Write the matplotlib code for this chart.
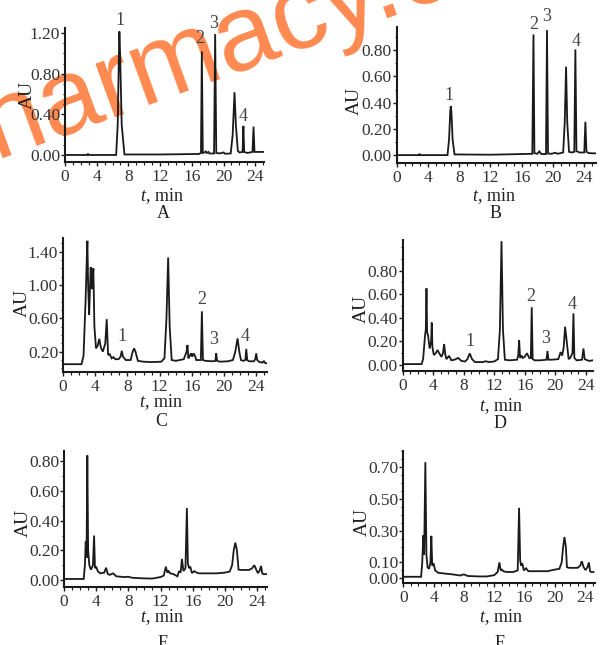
import matplotlib
matplotlib.use("Agg")
import matplotlib.pyplot as plt
from matplotlib.ticker import MultipleLocator

plt.rcParams['font.family'] = ['Liberation Serif', 'DejaVu Serif']
plt.rcParams['mathtext.fontset'] = 'custom'
plt.rcParams['mathtext.it'] = 'Liberation Serif:italic'
plt.rcParams['mathtext.rm'] = 'Liberation Serif'

# ---------------- data: chromatogram traces (time min, AU) ----------------
A_t = [0, 2.8, 2.9, 3.0, 6.45, 6.65, 6.8, 6.86, 6.95, 7.15, 7.5, 12, 16.9, 17.15, 17.26, 17.38, 17.6, 17.75, 17.9,
       18.1, 18.2, 18.8, 18.94, 19.08, 19.5, 20.0, 20.2, 20.9, 21.15, 21.38, 21.55, 21.8, 22.0, 22.4, 22.5, 22.6,
       23.0, 23.65, 23.78, 23.9, 24.3, 25.1]
A_au = [0, 0, 0.012, 0, 0, 0.3, 1.0, 1.216, 1.0, 0.3, 0.005, 0.005, 0.01, 0.02, 1.019, 0.02, 0.025, 0.035, 0.02,
        0.03, 0.015, 0.015, 1.19, 0.02, 0.015, 0.025, 0.012, 0.015, 0.2, 0.618, 0.3, 0.04, 0.025, 0.03, 0.286, 0.03,
        0.02, 0.03, 0.28, 0.03, 0.03, 0.03]

B_t = [0, 2.8, 2.9, 3.0, 6.5, 6.7, 6.85, 6.92, 7.0, 7.15, 7.4, 12, 16, 17.35, 17.5, 17.62, 18.0, 18.25, 18.5, 19.1,
       19.23, 19.36, 19.8, 20.3, 20.6, 21.3, 21.5, 21.67, 21.82, 22.05, 22.4, 22.72, 22.86, 23.0, 23.4, 24.0, 24.14,
       24.28, 24.6, 25.5]
B_au = [0, 0, 0.01, 0, 0, 0.12, 0.33, 0.374, 0.33, 0.12, 0.005, 0.003, 0.008, 0.01, 0.921, 0.015, 0.01, 0.028, 0.008,
        0.008, 0.954, 0.012, 0.01, 0.018, 0.01, 0.02, 0.25, 0.674, 0.25, 0.025, 0.02, 0.025, 0.807, 0.03, 0.02, 0.02,
        0.254, 0.025, 0.015, 0.013]

C_t = [0, 2.3, 2.55, 2.8, 2.95, 3.03, 3.12, 3.25, 3.35, 3.44, 3.55, 3.65, 3.77, 3.9, 4.1, 4.3, 4.51, 4.7, 4.95, 5.25,
       5.43, 5.6, 5.8, 6.05, 6.25, 6.5, 6.9, 7.15, 7.3, 7.45, 7.8, 8.4, 8.65, 8.83, 9.0, 9.3, 10, 11, 12.2, 12.6,
       12.85, 13.06, 13.25, 13.5, 14, 15.0, 15.35, 15.46, 15.57, 15.75, 15.9, 16.05, 16.2, 16.4, 16.55, 17.12, 17.25,
       17.38, 17.7, 18.6, 18.92, 19.03, 19.14, 19.5, 20.5, 21.1, 21.4, 21.68, 21.9, 22.1, 22.4, 22.65, 22.76, 22.88,
       23.1, 23.7, 23.88, 24.0, 24.12, 24.4, 24.8, 24.95, 25.1, 25.3]
C_au = [0.05, 0.05, 0.15, 0.8, 1.3, 1.53, 1.0, 0.64, 0.95, 1.215, 1.0, 0.95, 1.2, 0.5, 0.24, 0.27, 0.354, 0.25, 0.2,
        0.3, 0.59, 0.16, 0.17, 0.12, 0.135, 0.11, 0.11, 0.14, 0.21, 0.14, 0.1, 0.1, 0.2, 0.24, 0.2, 0.09, 0.08, 0.075,
        0.08, 0.12, 0.6, 1.33, 0.5, 0.1, 0.09, 0.11, 0.2, 0.28, 0.12, 0.15, 0.18, 0.14, 0.18, 0.15, 0.1, 0.1, 0.684,
        0.1, 0.09, 0.085, 0.09, 0.18, 0.09, 0.08, 0.085, 0.1, 0.2, 0.36, 0.2, 0.1, 0.09, 0.1, 0.233, 0.1, 0.085, 0.085,
        0.11, 0.18, 0.1, 0.075, 0.07, 0.09, 0.065, 0.06]

D_t = [0, 2.5, 2.7, 2.95, 3.05, 3.14, 3.22, 3.35, 3.55, 3.75, 3.83, 3.92, 4.1, 4.35, 4.58, 4.8, 5.1, 5.3, 5.45, 5.6,
       5.75, 6.1, 6.4, 6.8, 7.3, 7.7, 8.2, 8.5, 8.8, 9.1, 9.5, 10.5, 10.9, 11.3, 12.0, 12.5, 12.75, 12.96, 13.15, 13.4,
       14, 15.0, 15.15, 15.27, 15.39, 15.6, 15.75, 16.0, 16.3, 16.6, 16.8, 16.92, 17.04, 17.3, 18.0, 18.85, 18.98,
       19.11, 19.5, 20.4, 20.7, 20.9, 21.1, 21.29, 21.5, 21.75, 21.95, 22.25, 22.38, 22.5, 22.8, 23.5, 23.69, 23.85,
       24.2, 24.5, 24.9]
D_au = [0.008, 0.008, 0.05, 0.25, 0.3, 0.65, 0.28, 0.25, 0.14, 0.2, 0.36, 0.15, 0.085, 0.1, 0.127, 0.1, 0.07, 0.1,
        0.178, 0.09, 0.05, 0.078, 0.04, 0.045, 0.06, 0.035, 0.03, 0.05, 0.099, 0.05, 0.025, 0.025, 0.032, 0.025, 0.03,
        0.05, 0.3, 1.05, 0.3, 0.045, 0.04, 0.045, 0.08, 0.21, 0.06, 0.08, 0.06, 0.07, 0.1, 0.06, 0.06, 0.49, 0.05, 0.04,
        0.04, 0.045, 0.119, 0.045, 0.045, 0.05, 0.11, 0.08, 0.15, 0.325, 0.2, 0.05, 0.06, 0.1, 0.438, 0.06, 0.04,
        0.045, 0.14, 0.05, 0.04, 0.035, 0.04]

E_t = [0, 2.45, 2.6, 2.7, 2.8, 2.9, 3.0, 3.15, 3.35, 3.6, 3.74, 3.85, 4.0, 4.2, 4.5, 5.0, 5.23, 5.45, 5.7, 6.1, 6.5,
       7.5, 8.0, 8.5, 10, 11, 12.0, 12.4, 12.66, 12.85, 13.0, 13.2, 13.6, 14.1, 14.3, 14.5, 14.66, 14.85, 15.1, 15.28,
       15.4, 15.55, 15.7, 15.9, 16.2, 16.5, 16.8, 18, 19, 20.0, 20.6, 20.9, 21.1, 21.3, 21.5, 21.7, 22.0, 22.5, 23.0,
       23.4, 23.66, 23.9, 24.1, 24.3, 24.5, 24.65, 24.8, 25.2]
E_au = [0.007, 0.007, 0.1, 0.26, 0.15, 0.84, 0.2, 0.1, 0.07, 0.1, 0.30, 0.08, 0.09, 0.06, 0.045, 0.05, 0.083, 0.04,
        0.035, 0.045, 0.025, 0.02, 0.022, 0.015, 0.011, 0.01, 0.02, 0.03, 0.09, 0.05, 0.06, 0.045, 0.04, 0.025, 0.06,
        0.05, 0.142, 0.06, 0.08, 0.485, 0.11, 0.08, 0.09, 0.047, 0.06, 0.05, 0.045, 0.045, 0.045, 0.05, 0.057, 0.1,
        0.2, 0.252, 0.2, 0.07, 0.068, 0.068, 0.068, 0.08, 0.1, 0.07, 0.047, 0.06, 0.095, 0.045, 0.04, 0.04]

F_t = [0, 2.35, 2.5, 2.64, 2.75, 2.91, 3.05, 3.2, 3.4, 3.58, 3.7, 3.82, 4.0, 4.2, 4.6, 5.5, 6.5, 7.5, 8.0, 8.5, 10,
       11, 12.0, 12.45, 12.68, 12.85, 13.0, 13.2, 13.6, 14.5, 15.1, 15.28, 15.42, 15.55, 15.7, 15.9, 16.2, 16.5, 16.8,
       18, 19, 20.0, 20.6, 20.9, 21.1, 21.27, 21.45, 21.6, 21.9, 22.5, 23.0, 23.35, 23.56, 23.8, 24.05, 24.3, 24.49,
       24.65, 24.8, 25.1]
F_au = [0.01, 0.01, 0.1, 0.27, 0.15, 0.73, 0.15, 0.07, 0.06, 0.1, 0.267, 0.08, 0.094, 0.05, 0.035, 0.03, 0.025, 0.018,
        0.025, 0.015, 0.012, 0.012, 0.02, 0.04, 0.10, 0.05, 0.055, 0.045, 0.04, 0.04, 0.05, 0.443, 0.115, 0.08, 0.095,
        0.05, 0.063, 0.045, 0.045, 0.045, 0.045, 0.055, 0.06, 0.1, 0.2, 0.26, 0.2, 0.07, 0.066, 0.066, 0.066, 0.08,
        0.108, 0.07, 0.052, 0.07, 0.10, 0.045, 0.04, 0.04]

# peak labels: (text, time, AU)
A_labels = [("1", 6.94, 1.24), ("2", 17.0, 1.06), ("3", 18.8, 1.21), ("4", 22.5, 0.30)]
B_labels = [("1", 6.7, 0.39), ("2", 17.5, 0.93), ("3", 19.2, 0.99), ("4", 22.9, 0.80)]
C_labels = [("1", 7.3, 0.28), ("2", 17.25, 0.72), ("3", 18.7, 0.24), ("4", 22.6, 0.28)]
D_labels = [("1", 8.8, 0.13), ("2", 16.8, 0.51), ("3", 18.75, 0.15), ("4", 22.25, 0.44)]

x_ticks = [0, 4, 8, 12, 16, 20, 24]
A_yticks = [0.0, 0.4, 0.8, 1.2]
B_yticks = [0.0, 0.2, 0.4, 0.6, 0.8]
C_yticks = [0.2, 0.6, 1.0, 1.4]
D_yticks = [0.0, 0.2, 0.4, 0.6, 0.8]
E_yticks = [0.0, 0.2, 0.4, 0.6, 0.8]
F_yticks = [0.0, 0.1, 0.3, 0.5, 0.7]
panel_names = ["A", "B", "C", "D", "E", "F"]
watermark = "harmacy.c"

# ---------------- layout ----------------
W, H = 604, 645
fig = plt.figure(figsize=(W / 100, H / 100), dpi=100)


def px_rect(left, right, top, bottom):
    return [left / W, 1 - bottom / H, (right - left) / W, (bottom - top) / H]


panels = [
    dict(t=A_t, au=A_au, rect=px_rect(65, 264, 28, 162.3), xlim=(0, 25.1), ylim=(-0.072, 1.25), yt=A_yticks,
         ymin=0.1, labels=A_labels, au_pos=(27, 95), tmin=(162, 196), let=(163, 214)),
    dict(t=B_t, au=B_au, rect=px_rect(396.7, 596, 26.7, 162.7), xlim=(0, 25.5), ylim=(-0.058, 0.98), yt=B_yticks,
         ymin=0.1, labels=B_labels, au_pos=(354, 101), tmin=(494, 196), let=(496, 214)),
    dict(t=C_t, au=C_au, rect=px_rect(63, 266.7, 238.3, 371.7), xlim=(0, 25.3), ylim=(-0.04, 1.56), yt=C_yticks,
         ymin=0.1, labels=C_labels, au_pos=(22, 303), tmin=(161, 402), let=(161, 421)),
    dict(t=D_t, au=D_au, rect=px_rect(402.5, 592.7, 240, 370.7), xlim=(0, 24.9), ylim=(-0.048, 1.06), yt=D_yticks,
         ymin=0.1, labels=D_labels, au_pos=(361, 309), tmin=(501, 406), let=(500, 424)),
    dict(t=E_t, au=E_au, rect=px_rect(64, 266.7, 451, 586.7), xlim=(0, 25.2), ylim=(-0.045, 0.87), yt=E_yticks,
         ymin=0.1, labels=[], au_pos=(23, 523), tmin=(162, 617), let=(163, 643)),
    dict(t=F_t, au=F_au, rect=px_rect(403.3, 595, 451, 583.3), xlim=(0, 25.3), ylim=(-0.031, 0.80), yt=F_yticks,
         ymin=0.05, labels=[], au_pos=(362, 522), tmin=(501, 617), let=(500, 643)),
]

# watermark (drawn beneath the chart ink)
fig.text(-5 / W, 1 - 158 / H, watermark, rotation=20, rotation_mode='anchor', ha='left', va='baseline',
         fontsize=78, color='#ff8a50', family='Liberation Sans', zorder=-1)

ink = '#1a1a1a'
for name, p in zip(panel_names, panels):
    ax = fig.add_axes(p['rect'])
    ax.plot(p['t'], p['au'], color=ink, lw=1.3, solid_joinstyle='miter')
    ax.set_xlim(*p['xlim'])
    ax.set_ylim(*p['ylim'])
    for s in ['top', 'right']:
        ax.spines[s].set_visible(False)
    for s in ['left', 'bottom']:
        ax.spines[s].set_linewidth(1.5)
        ax.spines[s].set_color(ink)
    ax.set_xticks(x_ticks)
    ax.set_xticklabels([str(v) for v in x_ticks])
    ax.xaxis.set_minor_locator(MultipleLocator(1))
    ax.set_yticks(p['yt'])
    ax.set_yticklabels([f"{v:.2f}" for v in p['yt']])
    ax.yaxis.set_minor_locator(MultipleLocator(p['ymin']))
    ax.tick_params(axis='both', which='major', direction='out', length=3, width=1.0, colors=ink,
                   labelsize=12.5, labelcolor='#333333')
    ax.tick_params(axis='both', which='minor', direction='out', length=1.8, width=0.8, colors=ink)
    ax.tick_params(axis='y', which='major', pad=0.5)
    ax.tick_params(axis='x', which='major', pad=2)
    ax.patch.set_alpha(0)
    for txt, tx, ty in p['labels']:
        ax.text(tx, ty, txt, ha='center', va='bottom', fontsize=13, color='#444444', clip_on=False)
    fig.text(p['au_pos'][0] / W, 1 - p['au_pos'][1] / H, "AU", rotation=90, ha='center', va='center',
             fontsize=14, color='#222222')
    fig.text(p['tmin'][0] / W, 1 - p['tmin'][1] / H, r"$t$, min", ha='center', va='center',
             fontsize=13, color='#222222')
    fig.text(p['let'][0] / W, 1 - p['let'][1] / H, name, ha='center', va='center',
             fontsize=13, color='#222222')

fig.savefig("out.png", dpi=100)
